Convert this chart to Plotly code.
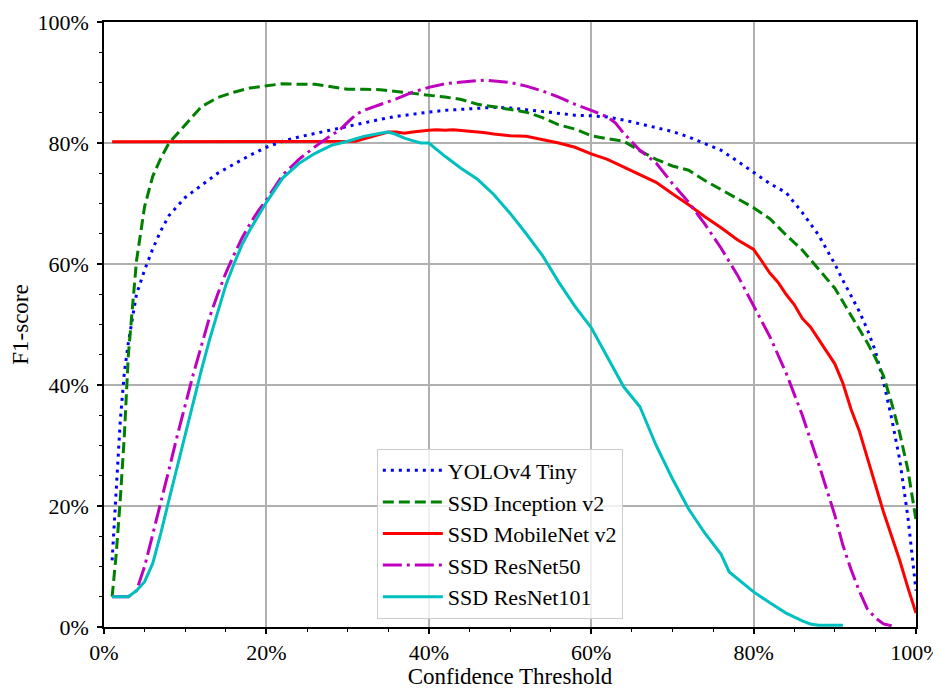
import plotly.graph_objects as go

# ---- data (confidence threshold %, F1-score %) ----
yolo_x = [1, 1.5, 2, 2.5, 3, 4, 5, 6, 7, 8, 10, 12, 14, 16, 18, 20, 22, 24, 26, 28, 30, 32, 34, 36, 38, 40,
          42, 44, 46, 48, 50, 52, 54, 56, 58, 60, 62, 64, 66, 68, 70, 72, 74, 76, 78, 80, 82, 84, 86, 88,
          90, 91, 92, 93, 94, 95, 96, 97, 98, 99, 100]
yolo_y = [11, 22, 34, 42, 47, 55, 59, 62.5, 65.5, 68, 71, 73, 75, 76.5, 78, 79.3, 80.3, 81, 81.6, 82.1,
          82.7, 83.4, 83.9, 84.4, 84.8, 85.1, 85.4, 85.6, 85.8, 85.9, 85.8, 85.5, 85.2, 84.9, 84.6, 84.5,
          84.3, 83.8, 83.2, 82.5, 81.9, 81.0, 79.9, 78.8, 77.0, 75.2, 73.3, 71.8, 68.5, 64.8, 60.0, 57.3,
          54.8, 52.2, 49.2, 45.6, 40.5, 34.5, 27.6, 18.2, 6]

incep_x = [1, 1.5, 2, 2.5, 3, 3.5, 4, 5, 6, 7, 8, 9, 10, 12, 14, 16, 18, 20, 22, 24, 26, 28, 30, 32, 34,
           36, 38, 40, 42, 44, 46, 48, 50, 52, 54, 56, 58, 60, 62, 64, 66, 68, 70, 72, 74, 76, 78, 80, 82,
           84, 86, 88, 90, 92, 94, 95, 96, 97, 98, 99, 100]
incep_y = [5, 12, 21, 31.5, 45, 53, 60.5, 69.5, 74.5, 77.5, 80, 81.5, 83, 86, 87.5, 88.4, 89.1, 89.5,
           89.8, 89.7, 89.7, 89.3, 88.9, 88.9, 88.8, 88.5, 88.2, 88.0, 87.6, 87.2, 86.4, 86.0, 85.6,
           85.1, 84.2, 83.0, 82.3, 81.2, 80.7, 80.3, 78.7, 77.3, 76.2, 75.5, 73.8, 72.3, 70.7, 69.3,
           67.5, 64.8, 62.3, 59.2, 56, 51.5, 47, 44.5, 41.5, 37, 32, 26, 17.7]

mobile_x = [1, 5, 10, 15, 20, 25, 28, 30, 31, 32, 33, 34, 35, 36, 37, 38, 39, 40, 41, 42, 43, 44, 45,
            46, 47, 48, 50, 52, 54, 56, 58, 60, 62, 64, 66, 68, 70, 72, 74, 76, 78, 80, 81, 82, 83, 84,
            85, 86, 87, 88, 89, 90, 91, 92, 93, 94, 95, 96, 97, 98, 99, 100]
mobile_y = [80.2, 80.2, 80.2, 80.2, 80.2, 80.2, 80.2, 80.2, 80.3, 80.7, 81.1, 81.5, 81.8, 81.8, 81.6,
            81.8, 82.0, 82.1, 82.2, 82.1, 82.2, 82.1, 82.0, 81.9, 81.7, 81.5, 81.2, 81.1, 80.6, 80.0,
            79.3, 78.2, 77.3, 76.0, 74.7, 73.5, 71.6, 69.8, 67.8, 66.0, 64.0, 62.4, 60.5, 58.5, 57.0,
            55.0, 53.3, 51.0, 49.6, 47.5, 45.5, 43.5, 40.3, 36, 32.5, 28, 23.5, 19, 15, 11, 6.5, 2.3]

res50_x = [1, 3, 4, 5, 6, 7, 8, 9, 10, 11, 12, 13, 14, 15, 16, 17, 18, 19, 20, 22, 24, 26, 28, 29, 30,
           31, 32, 34, 36, 38, 40, 42, 44, 46, 47, 48, 50, 52, 54, 56, 58, 60, 62, 63, 64, 66, 68, 70,
           72, 74, 76, 78, 80, 82, 84, 86, 88, 90, 91, 92, 93, 94, 95, 96, 97]
res50_y = [5, 5, 6, 10, 15.3, 20.5, 26, 31.5, 36.8, 41.8, 46.5, 51.2, 55, 58.5, 61.5, 64.3, 66.7, 68.8,
           70.6, 74.7, 77.3, 79.4, 81.3, 82.1, 83.4, 84.7, 85.4, 86.3, 87.3, 88.4, 89.2, 89.8, 90.1,
           90.3, 90.4, 90.3, 90.0, 89.4, 88.6, 87.6, 86.4, 85.4, 84.3, 83.3, 81.6, 78.8, 76.7, 73.3,
           70.2, 66.6, 62.6, 58.2, 53.2, 48, 42, 35, 27, 18.5, 13.5, 9.5, 6, 3, 1.5, 0.5, 0.2]

res101_x = [1, 3, 4, 5, 6, 7, 8, 9, 10, 11, 12, 13, 14, 15, 16, 17, 18, 19, 20, 22, 24, 26, 28, 30, 32,
            34, 35, 36, 37, 38, 39, 40, 41, 42, 44, 46, 48, 50, 52, 54, 56, 58, 60, 62, 64, 66, 68, 70,
            72, 74, 76, 77, 78, 80, 82, 84, 86, 87, 88, 90, 91]
res101_y = [5, 5, 6, 7.5, 10.5, 15.5, 21, 26.5, 32, 37, 42.5, 47.5, 52, 56.5, 60, 63.2, 65.7, 68, 70.2,
            74.2, 76.6, 78.3, 79.6, 80.3, 81.1, 81.6, 81.8, 81.4, 80.8, 80.4, 80.0, 80.0, 78.9, 77.8,
            75.8, 74.0, 71.5, 68.4, 65.0, 61.4, 57.0, 53.0, 49.5, 44.6, 39.7, 36.4, 30, 24.5, 19.5,
            15.5, 12, 9.1, 8, 5.8, 4, 2.3, 1, 0.5, 0.3, 0.3, 0.3]

tick_vals = [0, 20, 40, 60, 80, 100]
tick_text = ["0%", "20%", "40%", "60%", "80%", "100%"]

series = [
    ("YOLOv4 Tiny", yolo_x, yolo_y, "#0000ff", "3px,5px"),
    ("SSD Inception v2", incep_x, incep_y, "#008000", "11px,5px"),
    ("SSD MobileNet v2", mobile_x, mobile_y, "#ff0000", "solid"),
    ("SSD ResNet50", res50_x, res50_y, "#bf00bf", "19px,5px,3px,5px"),
    ("SSD ResNet101", res101_x, res101_y, "#00bfbf", "solid"),
]

FONT = "Liberation Serif, DejaVu Serif, serif"

fig = go.Figure()
for name, xs, ys, col, dash in series:
    fig.add_trace(go.Scatter(x=xs, y=ys, mode="lines", name=name,
                             line=dict(color=col, width=3, dash=dash)))

axis_common = dict(
    range=[0, 100], tickvals=tick_vals, ticktext=tick_text,
    showgrid=True, gridcolor="#b0b0b0", gridwidth=1.5,
    showline=True, linecolor="black", linewidth=1.5, mirror=True,
    ticks="outside", ticklen=5, tickwidth=1.5, tickcolor="black",
    minor=dict(dtick=5, ticks="outside", ticklen=3, tickwidth=1, tickcolor="black", showgrid=False),
    zeroline=False, automargin=False, ticklabeloverflow="allow",
    tickfont=dict(family=FONT, size=22, color="black"),
)

fig.update_xaxes(**axis_common,
                 title=dict(text="Confidence Threshold", font=dict(family=FONT, size=23, color="black"),
                            standoff=8))
fig.update_yaxes(**axis_common, ticklabelstandoff=4,
                 title=dict(text="F1-score", font=dict(family=FONT, size=23, color="black"),
                            standoff=7))

fig.update_layout(
    width=933, height=681,
    margin=dict(l=96, r=25, t=14, b=62),
    plot_bgcolor="white", paper_bgcolor="white",
    font=dict(family=FONT, size=22, color="black"),
    showlegend=True,
    legend=dict(x=0.336, y=0.295, xanchor="left", yanchor="top",
                bgcolor="rgba(255,255,255,0.8)", bordercolor="#cccccc", borderwidth=1,
                font=dict(family=FONT, size=22, color="black"),
                tracegroupgap=0, itemwidth=60),
)

fig.write_html("out.html")
